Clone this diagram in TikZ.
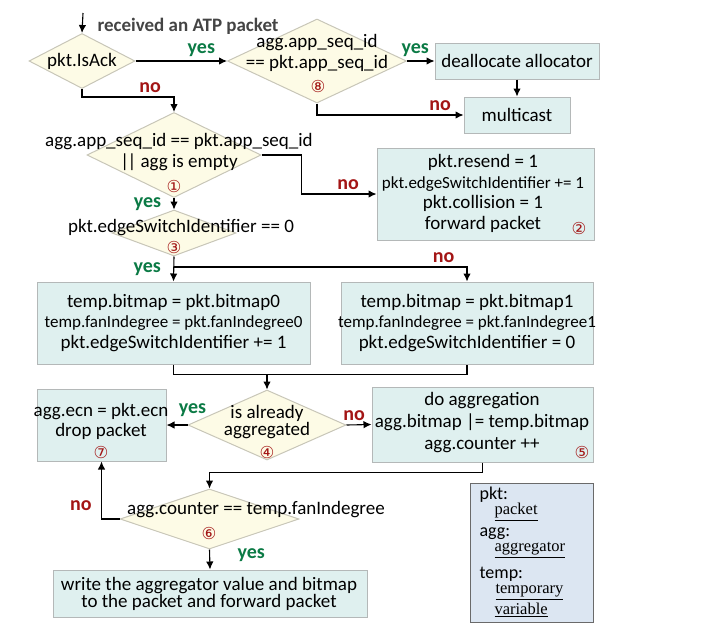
\documentclass[tikz,border=0pt]{standalone}
\usepackage{fontspec}
\setmainfont{Carlito}
\newfontfamily\numfont{DejaVu Sans}
\newfontfamily\legfont{Liberation Serif}
\usetikzlibrary{shapes.geometric, arrows.meta}
\definecolor{condfill}{HTML}{FDFBE6}
\definecolor{condline}{HTML}{C8C6B8}
\definecolor{actfill}{HTML}{DFF0EF}
\definecolor{actline}{HTML}{B4B8B8}
\definecolor{legfill}{HTML}{DCE6F2}
\definecolor{legline}{HTML}{6A6A6A}
\definecolor{yesgreen}{HTML}{0B7A45}
\definecolor{nored}{HTML}{A31515}
\definecolor{recvgray}{HTML}{444444}

\begin{document}
\begin{tikzpicture}[x=1pt, y=-1pt, >={Latex[length=8pt,width=7.5pt]}, line width=1.1pt,
  cond/.style={diamond, draw=condline, fill=condfill, line width=1pt, inner sep=0pt},
  act/.style={rectangle, draw=actline, fill=actfill, line width=1pt, inner sep=0pt},
  txt/.style={align=center, inner sep=0pt, font=\fontsize{19}{20.5}\selectfont},
  yeslbl/.style={text=yesgreen, font=\fontsize{20}{20}\selectfont\bfseries},
  nolbl/.style={text=nored, font=\fontsize{20}{20}\selectfont\bfseries},
  num/.style={text=nored, inner sep=0pt, font=\numfont\fontsize{16.5}{16.5}\selectfont},
  legkey/.style={anchor=west, inner sep=0pt, font=\fontsize{18}{18}\selectfont},
  legval/.style={anchor=west, inner sep=0pt, font=\legfont\fontsize{16.5}{16.5}\selectfont}]
\useasboundingbox (0,0) rectangle (728,635);

% top: ack check
\coordinate (start) at (83,13);
\node (recv) [anchor=west, inner sep=0pt, text=recvgray, font=\fontsize{19}{19}\selectfont\bfseries] at (97,26) {received an ATP packet};
\node (ack) [cond, minimum width=106, minimum height=55] at (82,61) {};
\node (ackt) [txt] at (ack) {pkt.IsAck};
\node (seq) [cond, minimum width=179, minimum height=84] at (317,61) {};
\node (seqt) [txt] at (317,53) {agg.app\_seq\_id\\== pkt.app\_seq\_id};
\node (n8) [num] at (318,86) {⑧};
\node (dealloc) [act, minimum width=164, minimum height=36] at (517,61) {};
\node (dealloct) [txt] at (dealloc) {deallocate allocator};
\node (mcast) [act, minimum width=106, minimum height=36] at (517,115) {};
\node (mcastt) [txt] at (mcast) {multicast};

% data packet
\node (match) [cond, minimum width=174, minimum height=85] at (174,155) {};
\node (matcht) [txt] at (179,152) {agg.app\_seq\_id == pkt.app\_seq\_id\\|\kern-1.5pt| agg is empty};
\node (n1) [num] at (174,186) {①};
\node (resend) [act, minimum width=217, minimum height=92] at (485.5,194) {};
\node (resendt) [txt] at (483,193.5) {pkt.resend = 1\\{\fontsize{17}{20.5}\selectfont pkt.edgeSwitchIdentifier += 1}\\pkt.collision = 1\\forward packet};
\node (n2) [num] at (579,228) {②};
\node (edge) [cond, minimum width=124, minimum height=46] at (174,233) {};
\node (edget) [txt] at (181,228) {pkt.edgeSwitchIdentifier == 0};
\node (n3) [num] at (174,247) {③};
\coordinate (fork) at (174,267);
\node (bitA) [act, minimum width=273, minimum height=82] at (173.5,323) {};
\node (bitAt) [txt] at (bitA) {temp.bitmap = pkt.bitmap0\\{\fontsize{17}{20.5}\selectfont temp.fanIndegree = pkt.fanIndegree0}\\pkt.edgeSwitchIdentifier += 1};
\node (bitB) [act, minimum width=252, minimum height=82] at (467,323) {};
\node (bitBt) [txt] at (bitB) {temp.bitmap = pkt.bitmap1\\{\fontsize{17}{20.5}\selectfont temp.fanIndegree = pkt.fanIndegree1}\\pkt.edgeSwitchIdentifier = 0};

% aggregation
\coordinate (join) at (267,374);
\node (aggd) [cond, minimum width=158, minimum height=70] at (267,425) {};
\node (aggdt) [txt, font=\fontsize{19}{16}\selectfont] at (267,422) {is already\\aggregated};
\node (n4) [num] at (267,452) {④};
\node (drop) [act, minimum width=129, minimum height=72] at (101.5,425) {};
\node (dropt) [txt, font=\fontsize{19}{20}\selectfont] at (101,421) {agg.ecn = pkt.ecn\\drop packet};
\node (n7) [num] at (101,452) {⑦};
\node (doagg) [act, minimum width=221, minimum height=75] at (482.5,424.5) {};
\node (doaggt) [txt, font=\fontsize{19}{22}\selectfont] at (482,422.5) {do aggregation\\agg.bitmap |= temp.bitmap\\agg.counter ++};
\node (n5) [num] at (582,452) {⑤};
\node (cnt) [cond, minimum width=179, minimum height=60] at (209.5,519) {};
\node (cntt) [txt] at (256,510) {agg.counter == temp.fanIndegree};
\node (n6) [num] at (209,533) {⑥};
\node (write) [act, minimum width=314, minimum height=47] at (210,593.5) {};
\node (writet) [txt, font=\fontsize{19}{16}\selectfont] at (209,594) {write the aggregator value and bitmap\\to the packet and forward packet};

% legend
\node (legend) [draw=legline, fill=legfill, line width=1pt, minimum width=123, minimum height=139, inner sep=0pt] at (531.5,552.5) {};
\node (lpkt) [legkey] at (479,495) {pkt:};
\node (lpktv) [legval] at (494,512) {\underline{packet}};
\node (lagg) [legkey] at (479,534) {agg:};
\node (laggv) [legval] at (494,550) {\underline{aggregator}};
\node (ltemp) [legkey] at (479,574) {temp:};
\node (ltempv) [legval] at (495,592) {\underline{temporary}};
\node (ltempw) [legval] at (494,610) {\underline{variable}};

\draw[->] (start) -- (ack.north);
\draw[->] (ack.east) -- node[yeslbl, above, pos=0.72] {yes} (seq.west);
\draw[->] (seq.east) -- node[yeslbl, above, pos=0.3] {yes} (dealloc.west);
\draw[->] (dealloc.south) -- (mcast.north);
\draw[->] (seq.south) |- node[nolbl, above, pos=0.92] {no} (mcast.west);
\draw[->] (ack.south) -- ++(0,8) -| node[nolbl, above, pos=0.37] {no} (match.north);
\draw[->] (match.east) -- ++(40,0) |- node[nolbl, above, pos=0.81] {no} (resend.west);
\draw[->] (match.south) -- node[yeslbl, left, xshift=-9] {yes} (edge.north);
\draw[->] (edge.south) -- node[yeslbl, left, xshift=-9] {yes} (bitA.north);
\draw[->] (fork) -| node[nolbl, above, pos=0.46] {no} (bitB.north);
\draw (bitA.south) -- ++(0,10) -| (bitB.south);
\draw[->] (join) -- (aggd.north);
\draw[->] (aggd.west) -- node[yeslbl, above, pos=0, xshift=5, yshift=4] {yes} (drop.east);
\draw[->] (aggd.east) -- node[nolbl, above, pos=0.3] {no} (doagg.west);
\draw[->] (doagg.south) -- ++(0,10) -| (cnt.north);
\draw[->] (cnt.west) -| node[nolbl, left, pos=0.62, xshift=-6] {no} (drop.south);
\draw[->] (cnt.south) -- node[yeslbl, right, pos=0.3, xshift=24] {yes} (write.north);
\end{tikzpicture}
\end{document}
